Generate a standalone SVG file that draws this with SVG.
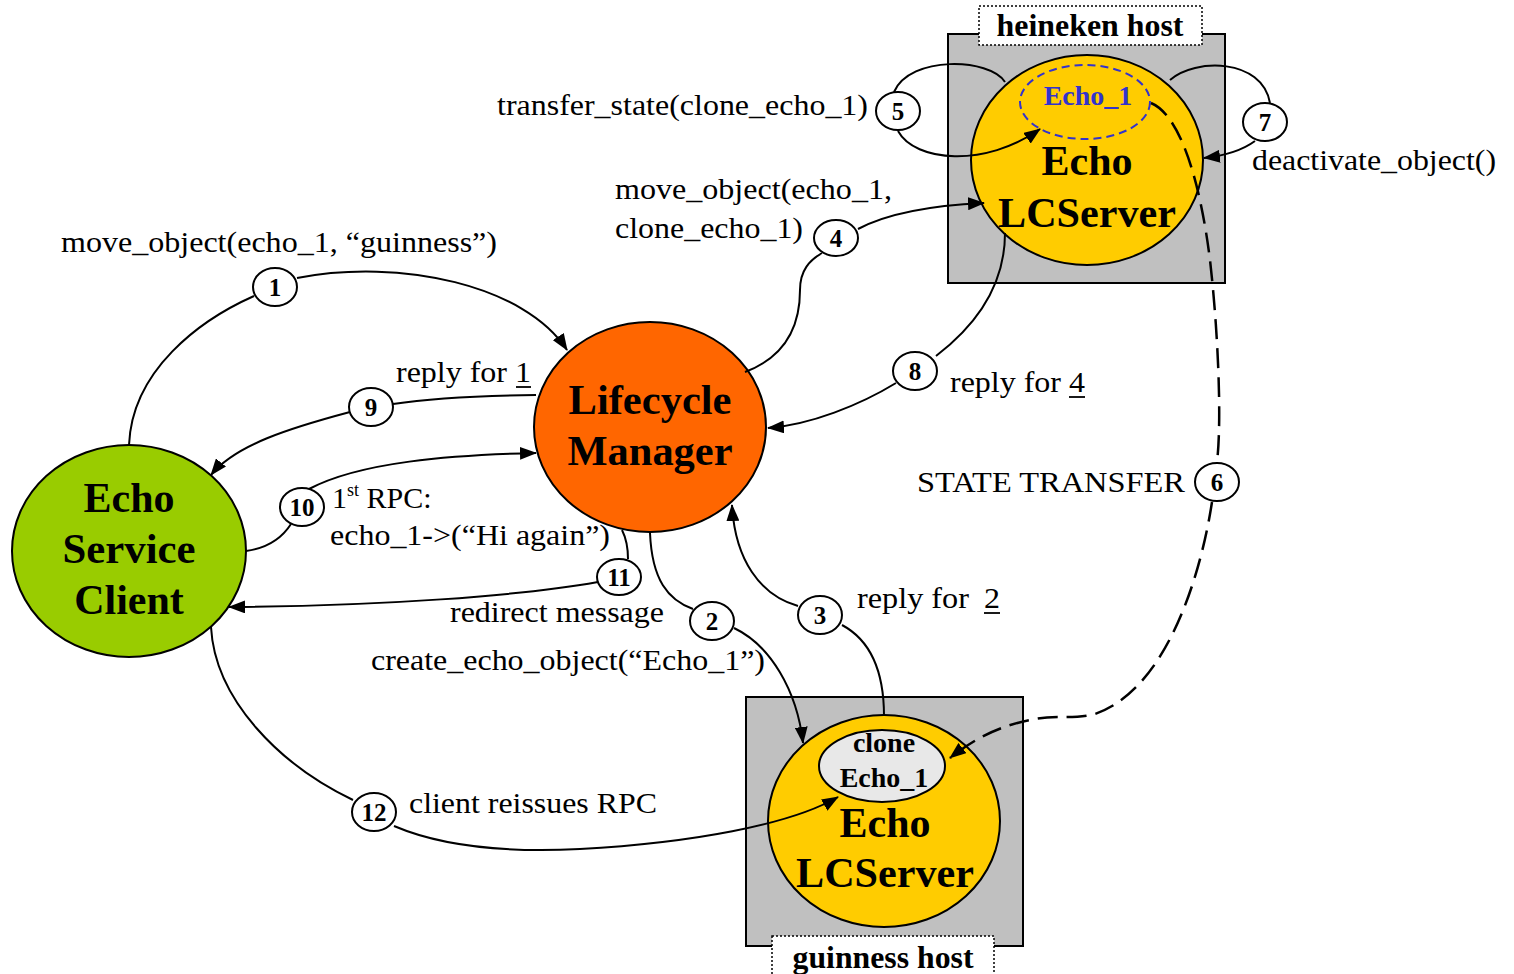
<svg xmlns="http://www.w3.org/2000/svg" width="1514" height="974" viewBox="0 0 1514 974">
  <style>
    .host { fill: #c0c0c0; stroke: #000; stroke-width: 2; }
    .tag { fill: #fff; stroke: #000; stroke-width: 1.5; stroke-dasharray: 2 2; }
    .node { stroke: #000; stroke-width: 2; }
    .big { font-family: "Liberation Serif", "Times New Roman", serif; font-weight: bold; font-size: 42px; text-anchor: middle; fill: #000; }
    .hostname { font-family: "Liberation Serif", "Times New Roman", serif; font-weight: bold; font-size: 31px; text-anchor: middle; fill: #000; }
    .obj { font-family: "Liberation Serif", "Times New Roman", serif; font-weight: bold; font-size: 28px; text-anchor: middle; }
    .lbl { font-family: "Liberation Serif", "Times New Roman", serif; font-size: 30px; fill: #000; }
    .num { font-family: "Liberation Serif", "Times New Roman", serif; font-weight: bold; font-size: 25px; text-anchor: middle; fill: #000; }
    .badge { fill: #fff; stroke: #000; stroke-width: 2; }
    .edge { fill: none; stroke: #000; stroke-width: 2; }
    .arrow { marker-end: url(#head); }
    .dashed { stroke-width: 2.5; stroke-dasharray: 20 9; }
    .ul { stroke: #000; stroke-width: 1.8; }
  </style>
  <defs>
    <marker id="head" markerUnits="userSpaceOnUse" markerWidth="17" markerHeight="13" refX="16" refY="6.5" orient="auto">
      <path d="M0,0 L17,6.5 L0,13 z" fill="#000"/>
    </marker>
  </defs>

  <rect width="1514" height="974" fill="#fff"/>

  <!-- heineken host with its Echo LCServer -->
  <g id="heineken-host">
    <rect class="host" x="948" y="34" width="277" height="249"/>
    <ellipse class="node" cx="1087" cy="160" rx="116" ry="105" fill="#ffcc00"/>
    <ellipse cx="1085" cy="102" rx="65" ry="37" fill="none" stroke="#3333cc" stroke-width="2" stroke-dasharray="8 5"/>
    <text class="obj" x="1088" y="105" fill="#3333cc">Echo_1</text>
    <text class="big" x="1087" y="175">Echo</text>
    <text class="big" x="1087" y="227" textLength="178" lengthAdjust="spacingAndGlyphs">LCServer</text>
    <rect class="tag" x="979" y="6" width="223" height="39"/>
    <text class="hostname" x="1090" y="36" textLength="187" lengthAdjust="spacingAndGlyphs">heineken host</text>
  </g>

  <!-- guinness host with its Echo LCServer and the clone -->
  <g id="guinness-host">
    <rect class="host" x="746" y="697" width="277" height="249"/>
    <ellipse class="node" cx="884" cy="821" rx="116" ry="106" fill="#ffcc00"/>
    <ellipse class="node" cx="882" cy="766" rx="63" ry="36" fill="#e8e8e8"/>
    <text class="obj" x="884" y="752" fill="#000">clone</text>
    <text class="obj" x="884" y="787" fill="#000">Echo_1</text>
    <text class="big" x="885" y="837">Echo</text>
    <text class="big" x="885" y="887" textLength="178" lengthAdjust="spacingAndGlyphs">LCServer</text>
    <rect class="tag" x="772" y="936" width="222" height="45"/>
    <text class="hostname" x="883" y="968" textLength="181" lengthAdjust="spacingAndGlyphs">guinness host</text>
  </g>

  <!-- client -->
  <g id="echo-service-client">
    <ellipse class="node" cx="129" cy="551" rx="117" ry="106" fill="#99cc00"/>
    <text class="big" x="129" y="512">Echo</text>
    <text class="big" x="129" y="563" textLength="133" lengthAdjust="spacingAndGlyphs">Service</text>
    <text class="big" x="129" y="614">Client</text>
  </g>

  <!-- lifecycle manager -->
  <g id="lifecycle-manager">
    <ellipse class="node" cx="650" cy="427" rx="116" ry="105" fill="#ff6600"/>
    <text class="big" x="650" y="414" textLength="163" lengthAdjust="spacingAndGlyphs">Lifecycle</text>
    <text class="big" x="650" y="465" textLength="165" lengthAdjust="spacingAndGlyphs">Manager</text>
  </g>

  <!-- message connectors -->
  <g id="connectors">
    <!-- 1 -->
    <path class="edge" d="M129,445 C132,370 200,320 254,296"/>
    <path class="edge arrow" d="M297,278 C400,258 525,285 567,350"/>
    <!-- 2 -->
    <path class="edge" d="M650,533 C652,580 668,600 693,609"/>
    <path class="edge arrow" d="M734,628 C770,645 797,690 803,743"/>
    <!-- 3 -->
    <path class="edge" d="M884,716 C884,670 870,640 842,625"/>
    <path class="edge arrow" d="M798,606 C760,595 735,560 732,505"/>
    <!-- 4 -->
    <path class="edge" d="M745,372 C790,355 800,320 800,290 C800,270 810,260 822,253"/>
    <path class="edge arrow" d="M858,229 C890,212 940,205 984,203"/>
    <!-- 5 -->
    <path class="edge" d="M1005,82 C990,58 910,55 894,92"/>
    <path class="edge arrow" d="M898,131 C915,162 985,168 1040,129"/>
    <!-- 6 -->
    <path class="edge dashed" d="M1151,103 C1180,115 1200,180 1210,260 C1218,330 1222,420 1217,462"/>
    <path class="edge dashed arrow" d="M1212,502 C1200,580 1165,690 1095,714 C1070,720 1055,714 1030,720 C1000,726 975,738 950,758"/>
    <!-- 7 -->
    <path class="edge" d="M1170,80 C1195,58 1262,58 1270,103"/>
    <path class="edge arrow" d="M1255,141 C1240,152 1222,156 1204,158"/>
    <!-- 8 -->
    <path class="edge" d="M1005,233 C1005,290 970,330 936,356"/>
    <path class="edge arrow" d="M896,383 C860,405 810,425 768,428"/>
    <!-- 9 -->
    <path class="edge" d="M536,395 C470,396 420,400 393,404"/>
    <path class="edge arrow" d="M350,412 C290,428 235,445 211,475"/>
    <!-- 10 -->
    <path class="edge" d="M246,551 C268,548 282,538 291,524"/>
    <path class="edge arrow" d="M309,489 C360,462 450,455 536,453"/>
    <!-- 11 -->
    <path class="edge" d="M622,530 C627,540 628,548 628,559"/>
    <path class="edge arrow" d="M598,582 C520,596 380,606 229,607"/>
    <!-- 12 -->
    <path class="edge" d="M211,627 C215,700 280,765 353,800"/>
    <path class="edge arrow" d="M394,826 C450,850 520,852 580,849 C690,843 790,825 838,797"/>
  </g>

  <!-- step numbers -->
  <g id="steps">
    <ellipse class="badge" cx="275" cy="287" rx="22" ry="19"/><text class="num" x="275" y="296">1</text>
    <ellipse class="badge" cx="712" cy="621" rx="22" ry="19"/><text class="num" x="712" y="630">2</text>
    <ellipse class="badge" cx="820" cy="615" rx="22" ry="19"/><text class="num" x="820" y="624">3</text>
    <ellipse class="badge" cx="836" cy="238" rx="22" ry="18"/><text class="num" x="836" y="247">4</text>
    <ellipse class="badge" cx="898" cy="111" rx="22" ry="19"/><text class="num" x="898" y="120">5</text>
    <ellipse class="badge" cx="1217" cy="482" rx="22" ry="19"/><text class="num" x="1217" y="491">6</text>
    <ellipse class="badge" cx="1265" cy="122" rx="22" ry="19"/><text class="num" x="1265" y="131">7</text>
    <ellipse class="badge" cx="915" cy="371" rx="22" ry="19"/><text class="num" x="915" y="380">8</text>
    <ellipse class="badge" cx="371" cy="407" rx="22" ry="19"/><text class="num" x="371" y="416">9</text>
    <ellipse class="badge" cx="302" cy="507" rx="22" ry="19"/><text class="num" x="302" y="516">10</text>
    <ellipse class="badge" cx="619" cy="577" rx="22" ry="18"/><text class="num" x="619" y="586">11</text>
    <ellipse class="badge" cx="374" cy="812" rx="22" ry="19"/><text class="num" x="374" y="821">12</text>
  </g>

  <!-- message labels -->
  <g id="labels">
    <text class="lbl" x="61" y="252" textLength="436" lengthAdjust="spacingAndGlyphs">move_object(echo_1, “guinness”)</text>
    <text class="lbl" x="497" y="115" textLength="371" lengthAdjust="spacingAndGlyphs">transfer_state(clone_echo_1)</text>
    <text class="lbl" x="615" y="199" textLength="277" lengthAdjust="spacingAndGlyphs">move_object(echo_1,</text>
    <text class="lbl" x="615" y="238" textLength="188" lengthAdjust="spacingAndGlyphs">clone_echo_1)</text>
    <text class="lbl" x="1252" y="170" textLength="244" lengthAdjust="spacingAndGlyphs">deactivate_object()</text>
    <text class="lbl" x="396" y="382" textLength="135" lengthAdjust="spacingAndGlyphs">reply for 1</text>
    <line class="ul" x1="516" y1="387" x2="531" y2="387"/>
    <text class="lbl" x="950" y="392" textLength="135" lengthAdjust="spacingAndGlyphs">reply for 4</text>
    <line class="ul" x1="1069" y1="397" x2="1085" y2="397"/>
    <text class="lbl" x="917" y="492" textLength="268" lengthAdjust="spacingAndGlyphs">STATE TRANSFER</text>
    <text class="lbl" x="332" y="508">1<tspan font-size="18" dy="-12">st</tspan><tspan dy="12"> RPC:</tspan></text>
    <text class="lbl" x="330" y="545" textLength="280" lengthAdjust="spacingAndGlyphs">echo_1-&gt;(“Hi again”)</text>
    <text class="lbl" x="450" y="622" textLength="214" lengthAdjust="spacingAndGlyphs">redirect message</text>
    <text class="lbl" x="371" y="670" textLength="394" lengthAdjust="spacingAndGlyphs">create_echo_object(“Echo_1”)</text>
    <text class="lbl" x="857" y="608" textLength="112" lengthAdjust="spacingAndGlyphs">reply for</text>
    <text class="lbl" x="984" y="608" textLength="16" lengthAdjust="spacingAndGlyphs">2</text>
    <line class="ul" x1="984" y1="613" x2="1000" y2="613"/>
    <text class="lbl" x="409" y="813" textLength="248" lengthAdjust="spacingAndGlyphs">client reissues RPC</text>
  </g>
</svg>
